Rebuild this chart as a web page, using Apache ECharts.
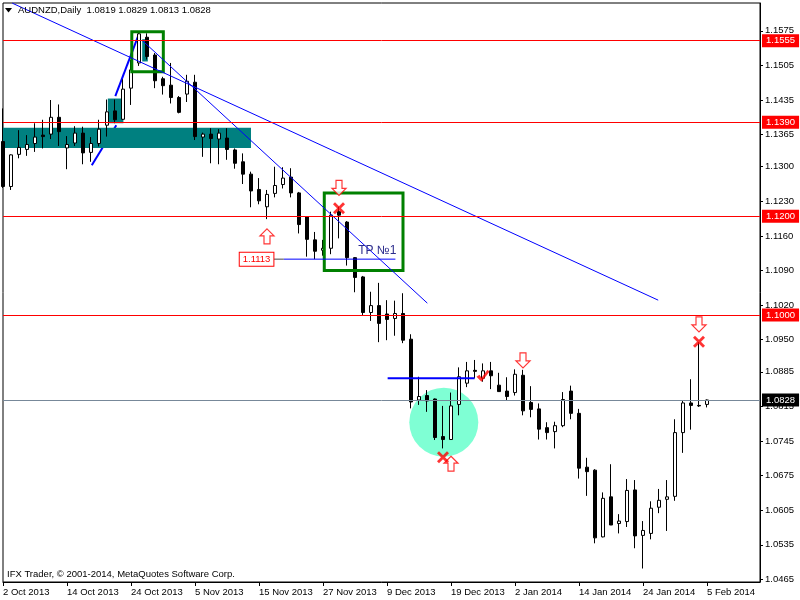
<!DOCTYPE html>
<html><head><meta charset="utf-8">
<script src="https://cdn.jsdelivr.net/npm/echarts@6/dist/echarts.min.js"></script>
<style>html,body{margin:0;padding:0;background:#fff}#c{width:800px;height:600px}</style>
</head><body><div id="c"></div>
<script>
// ---------- data ----------
const symbolName = 'AUDNZD,Daily';
const dateLabels = ['2 Oct 2013','14 Oct 2013','24 Oct 2013','5 Nov 2013','15 Nov 2013','27 Nov 2013','9 Dec 2013','19 Dec 2013','2 Jan 2014','14 Jan 2014','24 Jan 2014','5 Feb 2014'];
const dateTickIdx = [0,8,16,24,32,40,48,56,64,72,80,88];
const yTicks = [1.0465,1.0535,1.0605,1.0675,1.0745,1.0815,1.0885,1.0950,1.1020,1.1090,1.1160,1.1230,1.1300,1.1365,1.1435,1.1505,1.1575];
const opens  = [1.1351,1.1260,1.1325,1.1335,1.1347,1.1364,1.1366,1.1400,1.1338,1.1348,1.1368,1.1329,1.1347,1.1384,1.1413,1.1396,1.1459,1.1510,1.1562,1.1526,1.1478,1.1465,1.1440,1.1447,1.1471,1.1360,1.1366,1.1356,1.1358,1.1334,1.1310,1.1285,1.1254,1.1219,1.1246,1.1264,1.1279,1.1247,1.1199,1.1152,1.1131,1.1135,1.1209,1.1188,1.1116,1.1077,1.1005,1.1019,1.1002,1.0993,1.1003,1.0951,1.0828,1.0837,1.0830,1.0754,1.0748,1.0819,1.0862,1.0888,1.0872,1.0887,1.0858,1.0846,1.0843,1.0878,1.0823,1.0810,1.0772,1.0764,1.0776,1.0846,1.0801,1.0692,1.0686,1.0551,1.0632,1.0578,1.0582,1.0646,1.0554,1.0558,1.0611,1.0627,1.0633,1.0762,1.0822,1.0817,1.0819];
const closes = [1.1260,1.1324,1.1339,1.1345,1.1360,1.1361,1.1400,1.1371,1.1345,1.1368,1.1328,1.1347,1.1376,1.1411,1.1395,1.1457,1.1496,1.1569,1.1523,1.1474,1.1464,1.1440,1.1410,1.1473,1.1361,1.1366,1.1357,1.1368,1.1335,1.1307,1.1285,1.1251,1.1231,1.1244,1.1262,1.1277,1.1247,1.1183,1.1153,1.1129,1.1135,1.1202,1.1202,1.1116,1.1076,1.1005,1.1019,1.0983,1.0991,1.1003,1.0949,1.0824,1.0835,1.0826,1.0752,1.0748,1.0816,1.0875,1.0887,1.0886,1.0887,1.0877,1.0845,1.0835,1.0880,1.0806,1.0809,1.0769,1.0762,1.0776,1.0829,1.0801,1.0690,1.0683,1.0549,1.0629,1.0575,1.0583,1.0645,1.0553,1.0564,1.0609,1.0625,1.0632,1.0762,1.0822,1.0817,1.0816,1.0828];
const lows   = [1.1257,1.1253,1.1317,1.1322,1.1330,1.1337,1.1356,1.1342,1.1295,1.1342,1.1305,1.1310,1.1341,1.1361,1.1388,1.1395,1.1425,1.1504,1.1517,1.1459,1.1446,1.1428,1.1408,1.1431,1.1354,1.1320,1.1307,1.1305,1.1314,1.1296,1.1265,1.1218,1.1224,1.1194,1.1238,1.1256,1.1238,1.1165,1.1118,1.1113,1.1120,1.1123,1.1155,1.1100,1.1046,1.1000,1.0988,1.0945,1.0949,1.0958,1.0943,1.0811,1.0818,1.0804,1.0747,1.0730,1.0748,1.0797,1.0854,1.0872,1.0865,1.0850,1.0845,1.0828,1.0837,1.0797,1.0793,1.0748,1.0748,1.0730,1.0773,1.0789,1.0669,1.0634,1.0538,1.0550,1.0575,1.0558,1.0571,1.0528,1.0487,1.0546,1.0599,1.0563,1.0624,1.0721,1.0768,1.0814,1.0813];
const highs  = [1.1418,1.1325,1.1374,1.1364,1.1388,1.1395,1.1435,1.1426,1.1362,1.1382,1.1381,1.1360,1.1395,1.1436,1.1436,1.1477,1.1516,1.1571,1.1570,1.1530,1.1482,1.1510,1.1443,1.1486,1.1486,1.1369,1.1378,1.1376,1.1378,1.1337,1.1327,1.1290,1.1277,1.1253,1.1300,1.1299,1.1297,1.1249,1.1200,1.1168,1.1152,1.1209,1.1219,1.1190,1.1117,1.1079,1.1047,1.1065,1.1030,1.1029,1.1044,1.0961,1.0875,1.0848,1.0831,1.0816,1.0843,1.0894,1.0905,1.0909,1.0902,1.0905,1.0883,1.0874,1.0890,1.0889,1.0856,1.0821,1.0783,1.0784,1.0844,1.0857,1.0810,1.0711,1.0688,1.0641,1.0698,1.0597,1.0668,1.0666,1.0583,1.0623,1.0648,1.0666,1.0789,1.0826,1.0870,1.0945,1.0829];
const levels = [1.1555, 1.1390, 1.1200, 1.1000];
const lastPrice = 1.0828;
// annotations in (bar index, price)
const zones = [[0, 31.0, 1.1338, 1.1379], [13.1, 15.05, 1.1388, 1.1438], [17.4, 18.1, 1.1513, 1.1558]];
const boxes = [[16.1, 20.04, 1.1492, 1.1573], [40.16, 50.0, 1.1090, 1.1247]];
const trendLines = [[1.16, 1.1631, 81.9, 1.1030], [17.375, 1.1556, 53.04, 1.1024]];
const zigzags = [[11.1, 1.1303, 14.16, 1.1384], [14.04, 1.1443, 16.95, 1.1567]];
const hLines = [[35.1, 49.05, 1.1113], [48.08, 58.95, 1.0872]];
const circles = [[55.1, 1.0783]];
const upArrows = [[33, 1.1159], [56, 1.0699]];
const downArrows = [[42, 1.1257], [65, 1.0908], [87, 1.0981]];
const crosses = [[42, 1.1216], [55, 1.0712], [87, 1.0946]];
const checks = [[60, 1.0877]];
const priceTag = [33.8, 1.1113];
const tpNote = [44.4, 1.1131, 'TP №1'];
const footer = 'IFX Trader, © 2001-2014, MetaQuotes Software Corp.';

// ---------- chart ----------
const FONT = '"Liberation Sans", Arial, sans-serif';
const FS = 9.5;
const n = opens.length;
const candleData = opens.map((o, i) => [i, o, closes[i], lows[i], highs[i]]);
const header = symbolName + '  ' + [opens[n-1], highs[n-1], lows[n-1], closes[n-1]].map(v => v.toFixed(4)).join(' ');

const UP = 'path://M7,0 L14,7 L10,7 L10,15 L4,15 L4,7 L0,7 Z';
const DOWN = 'path://M4,0 L10,0 L10,8 L14,8 L7,15 L0,8 L4,8 Z';
const CROSS = 'path://M0,2 L2,0 L6,4 L10,0 L12,2 L8,6 L12,10 L10,12 L6,8 L2,12 L0,10 L4,6 Z';
const CHECK = 'path://M0,7 L3,5 L5,8 L11,0 L13,2 L5,12 Z';

const arrowStyle = {color: '#ffffff', borderColor: '#ff0000', borderWidth: 1.2};
const markerData = [].concat(
  upArrows.map(p => ({value: p, symbol: UP, symbolSize: [14, 15], itemStyle: arrowStyle})),
  downArrows.map(p => ({value: p, symbol: DOWN, symbolSize: [14, 15], itemStyle: arrowStyle})),
  crosses.map(p => ({value: p, symbol: CROSS, symbolSize: [12, 12], itemStyle: {color: '#ff0000'}})),
  checks.map(p => ({value: p, symbol: CHECK, symbolSize: [13, 12], itemStyle: {color: '#ff0000'}}))
);

function lineItem(color, width) {
  return function (params, api) {
    const a = api.coord([api.value(0), api.value(1)]);
    const b = api.coord([api.value(2), api.value(3)]);
    return {type: 'line', shape: {x1: a[0], y1: a[1], x2: b[0], y2: b[1]}, style: {stroke: color, lineWidth: width}};
  };
}

const chart = echarts.init(document.getElementById('c'));
chart.setOption({
  animation: false,
  backgroundColor: '#ffffff',
  textStyle: {fontFamily: FONT},
  title: [
    {text: header, left: 18, top: 5, padding: 0, textStyle: {fontSize: FS, fontWeight: 'normal', color: '#000', fontFamily: FONT}},
    {text: footer, left: 7, top: 569, padding: 0, textStyle: {fontSize: FS, fontWeight: 'normal', color: '#000', fontFamily: FONT}}
  ],
  graphic: [{type: 'polygon', shape: {points: [[5, 8], [12, 8], [8.5, 12.5]]}, style: {fill: '#000'}}],
  grid: {left: 3, right: 40, top: 3, bottom: 18, show: true, borderColor: '#000', borderWidth: 1, backgroundColor: '#fff'},
  xAxis: {
    type: 'value', min: 0, max: 94.625,
    axisLine: {show: true, onZero: false, lineStyle: {color: '#000', width: 1}},
    axisTick: {show: true, length: 4, customValues: dateTickIdx, lineStyle: {color: '#000'}},
    axisLabel: {show: true, customValues: dateTickIdx, align: 'left', margin: 5, color: '#000', fontSize: FS, fontFamily: FONT,
      formatter: v => dateLabels[dateTickIdx.indexOf(Math.round(v))] || ''},
    splitLine: {show: false}
  },
  yAxis: {
    type: 'value', position: 'right', min: 1.04597, max: 1.16313,
    axisLine: {show: true, onZero: false, lineStyle: {color: '#000', width: 1}},
    axisTick: {show: true, length: 3, customValues: yTicks, lineStyle: {color: '#000'}},
    axisLabel: {show: true, customValues: yTicks, margin: 5, color: '#000', fontSize: FS, fontFamily: FONT, formatter: v => v.toFixed(4)},
    splitLine: {show: false}
  },
  series: [
    {type: 'custom', name: 'zigzag', z: 1, data: zigzags, encode: {x: [0, 2], y: [1, 3]}, renderItem: lineItem('#0000ff', 2)},
    {type: 'custom', name: 'zones', z: 1.5, data: zones, encode: {x: [0, 1], y: [2, 3]},
      renderItem: function (params, api) {
        const a = api.coord([api.value(0), api.value(3)]);
        const b = api.coord([api.value(1), api.value(2)]);
        return {type: 'rect', shape: {x: a[0], y: a[1], width: b[0] - a[0], height: b[1] - a[1]}, style: {fill: '#008080'}};
      }},
    {type: 'scatter', name: 'circle', z: 1.5, data: circles, symbol: 'circle', symbolSize: 69, itemStyle: {color: '#7fffd4', opacity: 1}},
    {type: 'candlestick', name: 'candles', z: 2, data: candleData, encode: {x: 0, y: [1, 2, 3, 4]}, barWidth: 4,
      itemStyle: {color: '#ffffff', color0: '#000000', borderColor: '#000000', borderColor0: '#000000', borderWidth: 1}},
    {type: 'custom', name: 'boxes', z: 3, data: boxes, encode: {x: [0, 1], y: [2, 3]},
      renderItem: function (params, api) {
        const a = api.coord([api.value(0), api.value(3)]);
        const b = api.coord([api.value(1), api.value(2)]);
        return {type: 'rect', shape: {x: a[0], y: a[1], width: b[0] - a[0], height: b[1] - a[1]}, style: {fill: null, stroke: '#008000', lineWidth: 3}};
      }},
    {type: 'custom', name: 'trends', z: 3, data: trendLines, encode: {x: [0, 2], y: [1, 3]}, renderItem: lineItem('#0000ff', 1)},
    {type: 'custom', name: 'hlines', z: 3, data: hLines, encode: {x: [0, 1], y: 2},
      renderItem: function (params, api) {
        const a = api.coord([api.value(0), api.value(2)]);
        const b = api.coord([api.value(1), api.value(2)]);
        return {type: 'line', shape: {x1: a[0], y1: a[1], x2: b[0], y2: b[1]}, style: {stroke: '#0000ff', lineWidth: params.dataIndex === 0 ? 1 : 2}};
      }},
    {type: 'custom', name: 'notes', z: 3.5, data: [priceTag, [tpNote[0], tpNote[1]]], encode: {x: 0, y: 1},
      renderItem: function (params, api) {
        const p = api.coord([api.value(0), api.value(1)]);
        if (params.dataIndex === 0) {
          const q = api.coord([hLines[0][0], api.value(1)]);
          return {type: 'group', children: [
            {type: 'line', shape: {x1: p[0], y1: p[1], x2: q[0], y2: q[1]}, style: {stroke: '#444', lineWidth: 1}},
            {type: 'text', x: p[0], y: p[1], style: {text: priceTag[1].toFixed(4), fill: '#ff0000', font: FS + 'px ' + FONT,
              align: 'right', verticalAlign: 'middle', backgroundColor: '#fff', borderColor: '#ff0000', borderWidth: 1, padding: [2, 3, 1, 3]}}
          ]};
        }
        return {type: 'text', x: p[0], y: p[1], style: {text: tpNote[2], fill: '#2b2b8c', font: '12px ' + FONT, align: 'left', verticalAlign: 'middle'}};
      }},
    {type: 'scatter', name: 'markers', z: 4, clip: false, data: markerData,
      markLine: {
        silent: true, symbol: ['none', 'none'], animation: false, precision: 4,
        lineStyle: {type: 'solid', width: 1},
        label: {show: true, position: 'end', distance: 2, color: '#fff', fontSize: FS, fontFamily: FONT, padding: [2, 4, 1, 4],
          formatter: p => Number(p.value).toFixed(4)},
        data: levels.map(v => ({yAxis: v, lineStyle: {color: '#ff0000'}, label: {backgroundColor: '#ff0000'}}))
          .concat([{yAxis: lastPrice, lineStyle: {color: '#778899'}, label: {backgroundColor: '#000000'}}])
      }}
  ]
});
</script></body></html>
